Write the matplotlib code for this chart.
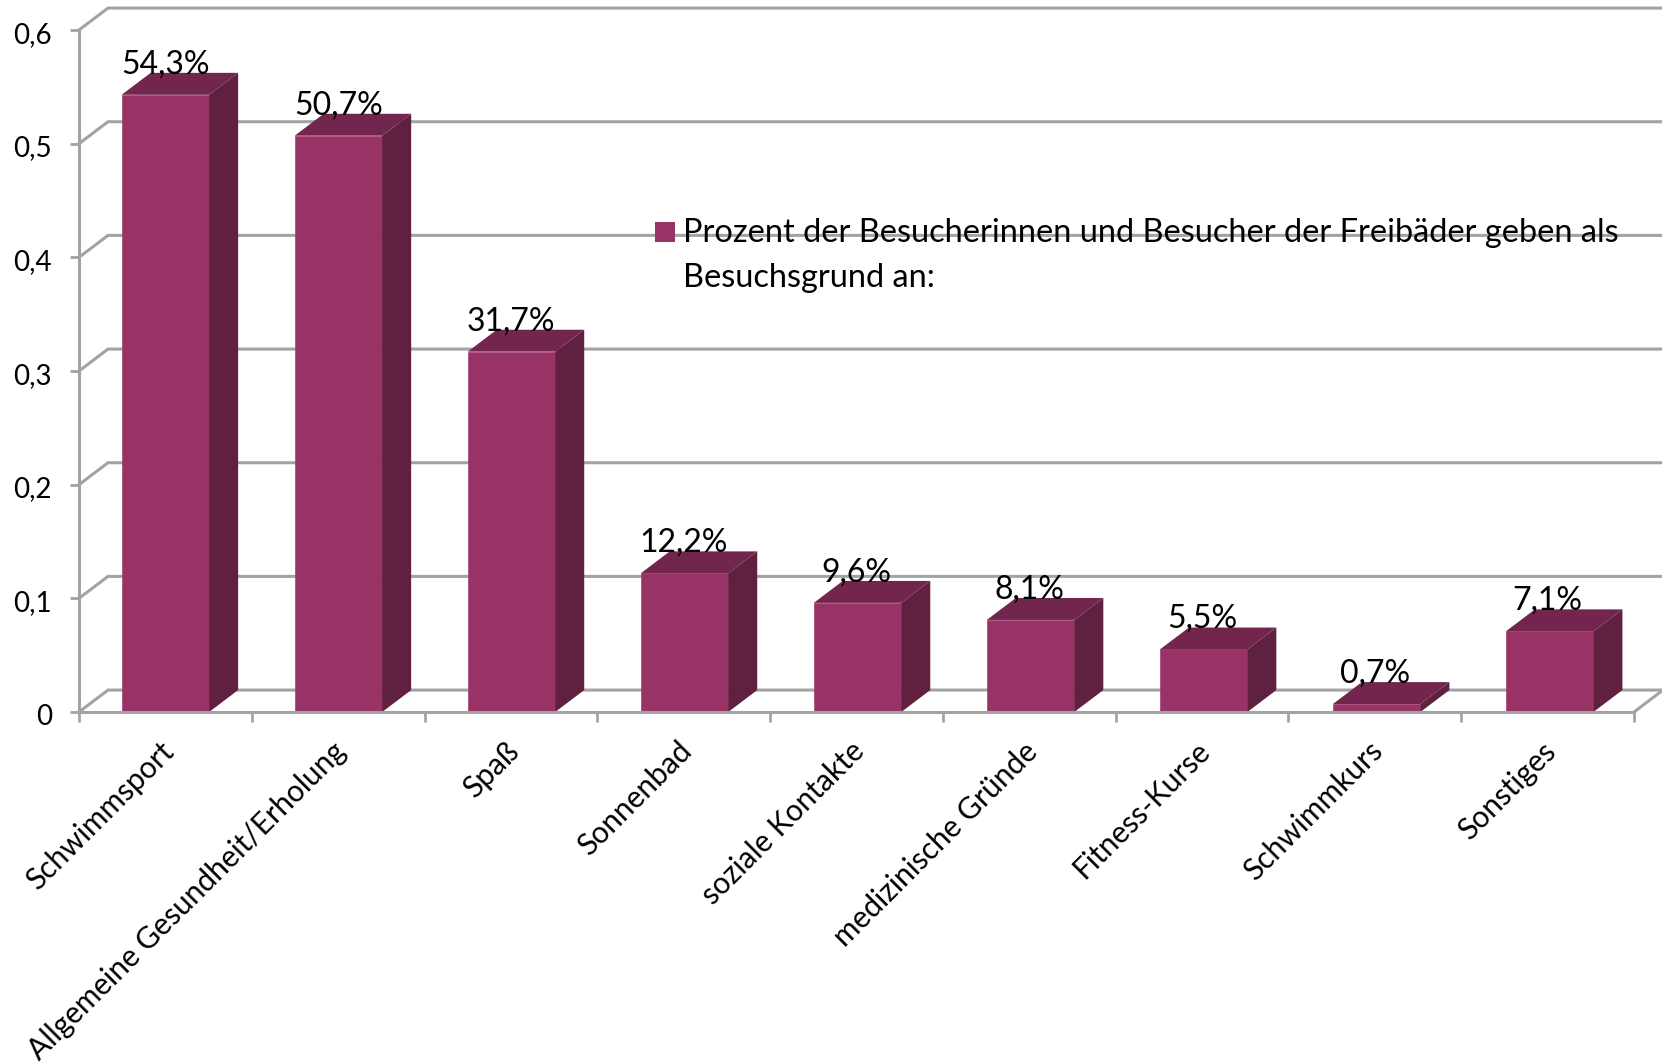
import matplotlib
matplotlib.use('Agg')
import matplotlib.pyplot as plt
from matplotlib.patches import Rectangle
from matplotlib.transforms import ScaledTranslation

plt.rcParams['font.family'] = ['Lato', 'DejaVu Sans']

categories = ['Schwimmsport', 'Allgemeine Gesundheit/Erholung', 'Spaß', 'Sonnenbad',
              'soziale Kontakte', 'medizinische Gründe', 'Fitness-Kurse', 'Schwimmkurs', 'Sonstiges']
values = [0.543, 0.507, 0.317, 0.122, 0.096, 0.081, 0.055, 0.007, 0.071]
value_labels = ['54,3%', '50,7%', '31,7%', '12,2%', '9,6%', '8,1%', '5,5%', '0,7%', '7,1%']
y_ticks = [0, 0.1, 0.2, 0.3, 0.4, 0.5, 0.6]
y_tick_labels = ['0', '0,1', '0,2', '0,3', '0,4', '0,5', '0,6']
legend_label = 'Prozent der Besucherinnen und Besucher der Freibäder geben als\nBesuchsgrund an:'

W, H = 1662, 1062
grey = '#A3A3A3'
front = '#993366'
side = '#60203F'
top = '#73264D'

# fake 3D depth of the Excel chart, in data units
depth_x = 29 / 172.8
depth_y = 0.0193
bar_width = 87.5 / 172.8

fig = plt.figure(figsize=(W / 100, H / 100), dpi=100)
ax = fig.add_axes([79 / W, 1 - 712 / H, (1634 - 79) / W, (712 - 30) / H])
ax.set_xlim(0, len(categories))
ax.set_ylim(0, 0.6)

# back wall gridlines and the diagonals that join them to the axis
for y in y_ticks:
    ax.plot([0, depth_x, len(categories) + depth_x], [y, y + depth_y, y + depth_y],
            color=grey, lw=2.2, clip_on=False, zorder=1, solid_joinstyle='miter')
ax.plot([len(categories), len(categories) + depth_x], [0, depth_y],
        color=grey, lw=2.2, clip_on=False, zorder=1)

# bars, the original drifts a little to the right along the axis
for i, v in enumerate(values):
    x0 = i + 0.5 - bar_width / 2 + i * 0.0015
    x1 = x0 + bar_width
    ax.bar(x0, v, width=bar_width, align='edge', color=front, edgecolor='#A04070', linewidth=0.5, zorder=3)
    ax.fill([x1, x1 + depth_x, x1 + depth_x, x1], [0, depth_y, v + depth_y, v],
            color=side, lw=0, zorder=3, clip_on=False)
    ax.fill([x0, x1, x1 + depth_x, x0 + depth_x], [v, v, v + depth_y, v + depth_y],
            color=top, lw=0, zorder=3, clip_on=False)
    ax.annotate(value_labels[i], (i + 0.5, v), xytext=(0, 15.5), textcoords='offset points',
                ha='center', va='baseline', fontsize=23, color='black', zorder=5)

# axes
for s in ['top', 'right']:
    ax.spines[s].set_visible(False)
for s in ['left', 'bottom']:
    ax.spines[s].set_color(grey)
    ax.spines[s].set_linewidth(2.2)
    ax.spines[s].set_zorder(4)

ax.set_yticks(y_ticks)
ax.set_yticklabels(y_tick_labels, fontsize=20)
ax.tick_params(axis='y', length=6.5, width=2, color=grey, pad=13)
down = ScaledTranslation(0, -1.5 / 72, fig.dpi_scale_trans)
for lab in ax.get_yticklabels():
    lab.set_transform(lab.get_transform() + down)

ax.set_xticks(range(len(categories) + 1))
ax.set_xticklabels([])
ax.tick_params(axis='x', which='major', length=7, width=2, color=grey)
ax.set_xticks([i + 0.5 for i in range(len(categories))], minor=True)
ax.set_xticklabels(categories, minor=True, rotation=45, ha='right', va='center',
                   rotation_mode='anchor', fontsize=21.5)
ax.tick_params(axis='x', which='minor', length=0, pad=25)
shift = ScaledTranslation(2.5 / 72, 0, fig.dpi_scale_trans)
for lab in ax.get_xticklabels(minor=True):
    lab.set_transform(lab.get_transform() + shift)

# legend
fig.add_artist(Rectangle((655 / W, 1 - 242 / H), 20 / W, 20 / H, transform=fig.transFigure,
                         facecolor=front, edgecolor='none', zorder=6))
fig.text(683 / W, 1 - 287 / H, legend_label, fontsize=23.4, color='black', ha='left', va='baseline',
         linespacing=1.64, zorder=6)

fig.savefig('out.png', dpi=100)
plt.close(fig)
